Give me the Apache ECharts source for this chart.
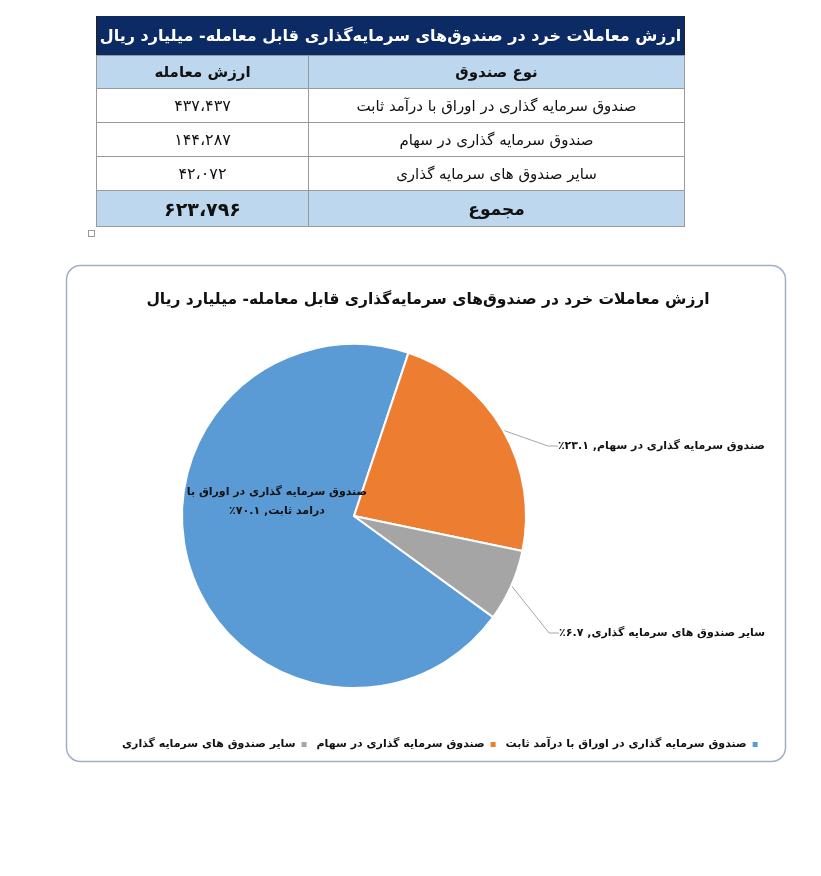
<!DOCTYPE html>
<html>
<head>
<meta charset="utf-8">
<script src="https://cdn.jsdelivr.net/npm/echarts@6/dist/echarts.min.js"></script>
<style>
  html, body { margin: 0; padding: 0; background: #fff; width: 821px; height: 876px; overflow: hidden; }
  #chart { position: absolute; left: 0; top: 0; width: 821px; height: 876px; direction: rtl; }
  #tbl { position: absolute; left: 96px; top: 16px; width: 589px; border-collapse: collapse; direction: rtl;
         font-family: "DejaVu Sans", sans-serif; z-index: 5; border: 1.5px solid #222; border-top: none; }
  #tbl td { text-align: center; border: 1px solid #9a9a9a; padding: 0; font-size: 15px; color: #111; }
  #tbl td.num { font-size: 16px; }
  #tbl tr.title td { background: #0c2a63; color: #fff; font-weight: bold; font-size: 16px; height: 39px; border: none; }
  #tbl tr.head td { background: #bdd7ee; font-weight: bold; height: 32px; font-size: 15px; }
  #tbl tr.row td { background: #fff; height: 33px; }
  #tbl tr.total td { background: #bdd7ee; font-weight: bold; height: 35px; font-size: 17px; }
  #tbl tr.total td.num { font-size: 19px; }
  #handle { position: absolute; left: 88px; top: 230px; width: 5px; height: 5px; border: 1px solid #999; z-index: 6; }
</style>
</head>
<body>
<div id="chart"></div>
<table id="tbl"></table>
<div id="handle"></div>
<script>
// ---- data ----
const chartTitle = 'ارزش معاملات خرد در صندوق‌های سرمایه‌گذاری قابل معامله- میلیارد ریال';
const colHeaders = ['نوع صندوق', 'ارزش معامله'];
const totalLabel = 'مجموع';
const fundNames = [
  'صندوق سرمایه گذاری در اوراق با درآمد ثابت',
  'صندوق سرمایه گذاری در سهام',
  'سایر صندوق های سرمایه گذاری'
];
const tradeValues = [437437, 144287, 42072];
const pieLabelNames = [
  'صندوق سرمایه گذاری در اوراق با\nدرامد ثابت',
  'صندوق سرمایه گذاری در سهام',
  'سایر صندوق های سرمایه گذاری'
];
const legendOrder = [fundNames[2], fundNames[1], fundNames[0]];
const sliceColors = ['#5b9bd5', '#ed7d31', '#a5a5a5'];

// ---- helpers ----
function toFa(s) { return String(s).replace(/\d/g, d => '۰۱۲۳۴۵۶۷۸۹'[d]); }
function fmtNum(n) { return toFa(n.toLocaleString('en-US').replace(/,/g, '،')); }

// ---- table ----
const tbl = document.getElementById('tbl');
let html = '<tr class="title"><td colspan="2">' + chartTitle + '</td></tr>';
html += '<tr class="head"><td style="width:375px">' + colHeaders[0] + '</td><td>' + colHeaders[1] + '</td></tr>';
fundNames.forEach((n, i) => {
  html += '<tr class="row"><td>' + n + '</td><td class="num">' + fmtNum(tradeValues[i]) + '</td></tr>';
});
const total = tradeValues.reduce((a, b) => a + b, 0);
html += '<tr class="total"><td>' + totalLabel + '</td><td class="num">' + fmtNum(total) + '</td></tr>';
tbl.innerHTML = html;

// ---- chart ----
const chart = echarts.init(document.getElementById('chart'), null, { renderer: 'canvas' });
const labelPlace = [
  { x: 277, y: 502, align: 'center' },
  { x: 765, y: 446, align: 'right' },
  { x: 765, y: 633, align: 'right' }
];
const FONT = '"DejaVu Sans", sans-serif';
chart.setOption({
  animation: false,
  graphic: [{
    type: 'rect', z: 0,
    shape: { x: 66.5, y: 265.5, width: 719, height: 496, r: 14 },
    style: { fill: 'none', stroke: '#a3adc6', lineWidth: 1.5 }
  }],
  title: {
    text: chartTitle,
    left: 423, top: 287, textAlign: 'center',
    textStyle: { fontFamily: FONT, fontSize: 15.5, fontWeight: 'bold', color: '#111' }
  },
  legend: {
    data: legendOrder,
    left: 117, top: 734, width: 780,
    align: 'right',
    icon: 'rect', itemWidth: 7, itemHeight: 7, itemGap: 8,
    textStyle: { fontFamily: FONT, fontSize: 11, fontWeight: 'bold', color: '#111' }
  },
  series: [{
    type: 'pie',
    center: [354, 516],
    radius: 172,
    startAngle: -36,
    clockwise: true,
    data: fundNames.map((n, i) => ({
      name: n, value: tradeValues[i], itemStyle: { color: sliceColors[i] },
      label: i === 0 ? { position: 'inside' } : {},
      labelLine: { show: i !== 0 }
    })),
    itemStyle: { borderColor: '#fff', borderWidth: 2 },
    label: {
      show: true,
      position: 'outside',
      overflow: 'none',
      fontFamily: FONT, fontSize: 11, fontWeight: 'bold', color: '#111', lineHeight: 19,
      formatter: p => pieLabelNames[p.dataIndex] + ', ' + toFa(p.percent.toFixed(1)) + '٪'
    },
    labelLine: { show: true, length: 20, length2: 10, lineStyle: { color: '#a6a6a6', width: 1 } },
    labelLayout: p => {
      const lp = labelPlace[p.dataIndex];
      return { x: lp.x, y: lp.y, align: lp.align, verticalAlign: 'middle' };
    },
    emphasis: { disabled: true }
  }]
});
</script>
</body>
</html>
